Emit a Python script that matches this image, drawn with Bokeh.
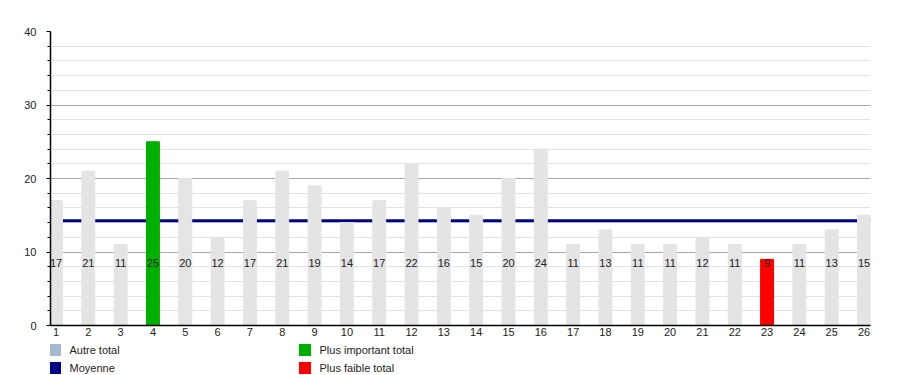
from bokeh.plotting import figure
from bokeh.layouts import column
from bokeh.models import Range1d, FixedTicker, Span, Legend, LegendItem, ColumnDataSource
from bokeh.core.properties import value
from bokeh.embed import file_html
from bokeh.resources import INLINE

# ---- data ----
categories = [str(i) for i in range(1, 27)]
totals = [17, 21, 11, 25, 20, 12, 17, 21, 19, 14, 17, 22, 16,
          15, 20, 24, 11, 13, 11, 11, 12, 11, 9, 11, 13, 15]
moyenne = 14.25
y_ticks = [0, 10, 20, 30, 40]
legend_labels = ["Autre total", "Plus important total", "Moyenne", "Plus faible total"]

# ---- style ----
FONT = "Liberation Sans"
GRAY = "#e4e4e4"
GREEN = "#00b000"
RED = "#ff0000"
NAVY = "#000088"
BLUEGRAY = "#a4b8cf"
LABEL_Y = 8.5

x = list(range(1, len(totals) + 1))
imax = totals.index(max(totals))
imin = totals.index(min(totals))
colors = [GREEN if i == imax else RED if i == imin else GRAY for i in range(len(totals))]

src = ColumnDataSource(dict(x=x, top=totals, color=colors, label=[str(v) for v in totals]))

p = figure(width=900, height=341,
           x_range=Range1d(0.83, 26.2), y_range=Range1d(0, 40),
           output_backend="svg", toolbar_location=None,
           min_border_left=50, min_border_right=30, min_border_top=31, min_border_bottom=16)
p.outline_line_color = None
p.background_fill_color = "white"
p.border_fill_color = "white"

minor = [v for v in range(0, 41, 2) if v % 10]
p.xgrid.grid_line_color = None
p.ygrid.ticker = FixedTicker(ticks=y_ticks, minor_ticks=minor)
p.ygrid.grid_line_color = "#a8a8a8"
p.ygrid.minor_grid_line_color = "#e2e2e2"

p.yaxis.ticker = FixedTicker(ticks=y_ticks, minor_ticks=minor)
p.yaxis.axis_line_color = "black"
p.yaxis.axis_line_width = 1.5
p.yaxis.major_tick_out = 4
p.yaxis.major_tick_in = 0
p.yaxis.minor_tick_out = 3
p.yaxis.minor_tick_in = 0
p.yaxis.major_tick_line_color = "black"
p.yaxis.minor_tick_line_color = "black"
p.yaxis.major_label_standoff = 10
p.yaxis.major_label_text_font = FONT
p.yaxis.major_label_text_font_size = "11px"
p.yaxis.major_label_text_color = "#222222"

p.xaxis.ticker = FixedTicker(ticks=x)
p.xaxis.major_label_overrides = {i + 1: c for i, c in enumerate(categories)}
p.xaxis.axis_line_color = "black"
p.xaxis.axis_line_width = 1.5
p.xaxis.major_tick_out = 0
p.xaxis.major_tick_in = 0
p.xaxis.minor_tick_out = 0
p.xaxis.minor_tick_in = 0
p.xaxis.major_tick_line_color = None
p.xaxis.minor_tick_line_color = None
p.xaxis.major_label_standoff = 2
p.xaxis.major_label_text_font = FONT
p.xaxis.major_label_text_font_size = "11px"
p.xaxis.major_label_text_color = "#222222"

p.add_layout(Span(location=moyenne, dimension="width", line_color=NAVY,
                  line_width=3, level="underlay"))

p.vbar(x="x", top="top", width=0.4, color="color", source=src)
p.text(x="x", y=LABEL_Y, text="label", source=src, text_align="center",
       text_baseline="middle", text_font=value(FONT), text_font_size="11px",
       text_color="#222222")

# ---- legend strip ----
lg = figure(width=900, height=34, output_backend="svg", toolbar_location=None,
            x_axis_location=None, y_axis_location=None,
            min_border_left=0, min_border_right=0, min_border_top=0, min_border_bottom=0)
lg.outline_line_color = None
lg.grid.visible = False
lg.background_fill_color = "white"
lg.border_fill_color = "white"

legend_colors = [BLUEGRAY, GREEN, NAVY, RED]
nan = float("nan")
items = []
for lab, col in zip(legend_labels, legend_colors):
    r = lg.quad(left=[nan], right=[nan], top=[nan], bottom=[nan], fill_color=col, line_color=None)
    items.append(LegendItem(label=lab, renderers=[r]))

legend = Legend(items=items, orientation="horizontal", ncols=2, location=(-3.5, 0),
                glyph_width=15, glyph_height=15, label_standoff=8, label_width=224,
                label_height=15, spacing=3, padding=0, margin=0,
                border_line_color=None, background_fill_alpha=0,
                label_text_font=FONT, label_text_font_size="11px",
                label_text_color="#222222")
lg.add_layout(legend)

layout = column(p, lg, spacing=0)
open("out.html", "w").write(file_html(layout, INLINE))
